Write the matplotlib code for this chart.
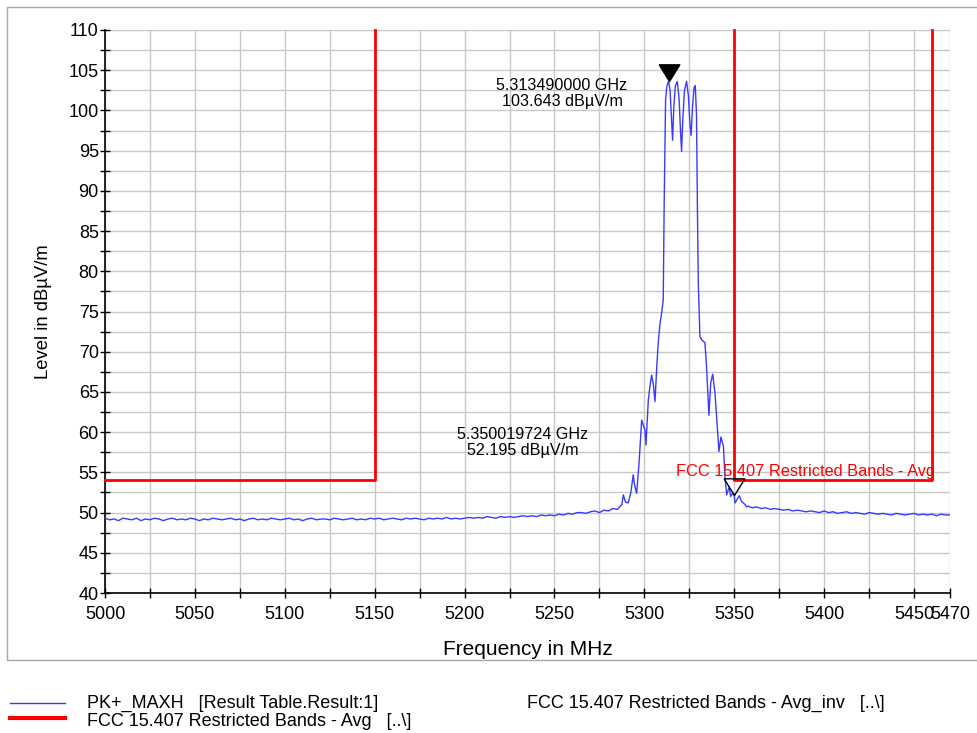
import numpy as np
import matplotlib
matplotlib.use("Agg")
import matplotlib.pyplot as plt
from matplotlib.lines import Line2D
from matplotlib.patches import Rectangle

plt.rcParams['font.family'] = ['Liberation Sans', 'DejaVu Sans']

# ---------------- data ----------------
floor_left_start, floor_left_step = 5000.0, 2.5
floor_left = [
    49.3, 49.1, 49.2, 49.0, 49.3, 49.2, 49.1, 49.3, 49.0, 49.2,
    49.1, 49.3, 49.2, 49.0, 49.2, 49.3, 49.1, 49.2, 49.1, 49.3,
    49.2, 49.0, 49.2, 49.1, 49.3, 49.2, 49.1, 49.2, 49.3, 49.1,
    49.2, 49.0, 49.2, 49.3, 49.1, 49.2, 49.1, 49.3, 49.2, 49.1,
    49.2, 49.3, 49.1, 49.2, 49.0, 49.2, 49.3, 49.1, 49.2, 49.2,
    49.1, 49.3, 49.2, 49.1, 49.2, 49.3, 49.1, 49.2, 49.1, 49.3,
    49.2, 49.3, 49.1, 49.2, 49.3, 49.2, 49.1, 49.3, 49.2, 49.3,
    49.2, 49.1, 49.3, 49.2, 49.3, 49.2, 49.4, 49.2, 49.3, 49.2, 49.3,
    49.4, 49.3, 49.4, 49.3, 49.5, 49.4, 49.3, 49.5, 49.4, 49.5,
    49.4, 49.5, 49.6, 49.5, 49.6, 49.5, 49.7, 49.6, 49.7, 49.6,
    49.8, 49.7, 49.9, 49.8, 50.0, 50.0, 49.9, 50.1, 50.2, 50.0,
    50.3, 50.2, 50.5, 50.4,
]

peak_freq = [
    5287.5, 5288.3, 5289.5, 5291.0, 5292.5, 5293.8, 5294.5, 5295.7, 5297.0, 5297.6,
    5298.5, 5299.5, 5300.3, 5300.9, 5302.2, 5303.0, 5304.0, 5305.0, 5305.9, 5307.0,
    5307.7, 5308.7, 5309.6, 5310.5, 5311.0, 5311.8, 5312.5, 5313.49, 5314.3, 5315.0,
    5315.7, 5316.4, 5317.2, 5318.3, 5319.3, 5320.2, 5320.7, 5321.3, 5322.3, 5323.5,
    5324.5, 5325.3, 5326.0, 5326.8, 5327.6, 5328.3, 5329.0, 5329.5, 5330.0, 5330.9,
    5331.8, 5332.8, 5333.7, 5334.6, 5335.3, 5335.9, 5336.9, 5338.0, 5339.3, 5340.2,
    5341.5, 5342.6, 5344.0, 5344.8, 5345.8, 5347.2, 5348.0, 5349.1, 5350.02, 5350.4,
    5351.5, 5352.8, 5354.0, 5355.0, 5356.0, 5356.9,
]
peak_level = [
    51.0, 52.2, 51.3, 51.2, 52.5, 54.7, 53.5, 52.4, 56.0, 58.2,
    61.5, 60.8, 60.3, 58.4, 64.0, 65.5, 67.1, 66.0, 63.8, 68.5,
    71.1, 73.5, 74.8, 76.4, 88.0, 101.3, 103.0, 103.643, 102.5, 99.5,
    96.3, 100.5, 103.0, 103.6, 101.5, 97.0, 94.9, 98.5, 102.5, 103.6,
    101.8, 98.5, 96.9, 100.5, 102.8, 103.1, 99.5, 88.0, 78.5, 71.9,
    71.5, 71.3, 71.1, 68.1, 65.0, 62.1, 66.1, 67.2, 64.8, 61.9,
    57.6, 59.4, 58.2, 54.5, 52.2, 53.2, 52.0, 52.4, 52.195, 51.2,
    51.6, 52.1, 51.4, 51.2, 51.0, 50.7,
]

floor_right_start, floor_right_step = 5357.5, 2.5
floor_right = [
    50.8, 50.6, 50.7, 50.5, 50.6, 50.4, 50.5, 50.4, 50.3, 50.4,
    50.2, 50.3, 50.2, 50.1, 50.2, 50.1, 50.0, 50.2, 50.0, 50.1,
    49.9, 50.0, 50.1, 49.9, 50.0, 49.9, 49.8, 50.0, 49.9, 49.8,
    49.9, 49.8, 49.7, 49.9, 49.8, 49.7, 49.8, 49.9, 49.7, 49.8,
    49.7, 49.8, 49.6, 49.8, 49.7, 49.7,
]

limit1_freq = [5000, 5150, 5150]
limit1_level = [54, 54, 110]
limit2_freq = [5350, 5350, 5460, 5460]
limit2_level = [110, 54, 54, 110]

marker1 = (5313.49, 103.643)
marker1_text = "5.313490000 GHz\n103.643 dBµV/m"
marker2 = (5350.019724, 52.195)
marker2_text = "5.350019724 GHz\n52.195 dBµV/m"

xticks = [5000, 5050, 5100, 5150, 5200, 5250, 5300, 5350, 5400, 5450, 5470]
yticks = [40, 45, 50, 55, 60, 65, 70, 75, 80, 85, 90, 95, 100, 105, 110]

legend_labels = ["PK+_MAXH   [Result Table.Result:1]",
                 "FCC 15.407 Restricted Bands - Avg   [..\\]",
                 "FCC 15.407 Restricted Bands - Avg_inv   [..\\]"]
limit_label = "FCC 15.407 Restricted Bands - Avg"

# ---------------- build trace ----------------
fl = np.array(floor_left)
fl_x = floor_left_start + floor_left_step * np.arange(len(fl))
fr = np.array(floor_right)
fr_x = floor_right_start + floor_right_step * np.arange(len(fr))
freq = np.concatenate([fl_x, peak_freq, fr_x])
level = np.concatenate([fl, peak_level, fr])

# ---------------- figure ----------------
fig = plt.figure(figsize=(9.77, 7.33), dpi=100)
fig.patches.append(Rectangle((7/977, 1-660/733), 1.0, 653/733, transform=fig.transFigure,
                             fill=False, edgecolor='#a8a8a8', lw=1.0))
ax = fig.add_axes([105/977, 1-593/733, 845/977, 563/733])

ax.set_xlim(5000, 5470)
ax.set_ylim(40, 110)
ax.set_xticks(xticks)
ax.set_xticklabels([str(t) for t in xticks])
ax.set_xticks(np.arange(5025, 5470, 50), minor=True)
ax.set_yticks(yticks)
ax.set_yticks(np.arange(42.5, 110, 5), minor=True)
ax.grid(True, which='both', color='#c8c8c8', lw=1.0, zorder=0)
ax.set_axisbelow(True)
for s in ['top', 'right']:
    ax.spines[s].set_visible(False)
for s in ['left', 'bottom']:
    ax.spines[s].set_color('black')
    ax.spines[s].set_linewidth(1.2)
ax.tick_params(which='both', direction='inout', length=7, width=1, labelsize=13)
ax.tick_params(axis='x', which='both', pad=6)
ax.tick_params(axis='y', which='both', pad=1)

ax.plot(limit1_freq, limit1_level, color='#ff0000', lw=2, clip_on=False, zorder=3)
ax.plot(limit2_freq, limit2_level, color='#ff0000', lw=2, clip_on=False, zorder=3)
ax.plot(freq, level, color='#3a3aff', lw=1.0, zorder=4)

tri = [(-0.62, 1.0), (0.62, 1.0), (0.0, 0.0), (-0.62, 1.0)]
ax.plot([marker1[0]], [marker1[1]], marker=tri, markersize=24, color='black', ls='none', zorder=6)
ax.plot([marker2[0]], [marker2[1]], marker=tri, markersize=24, markerfacecolor='none',
        markeredgecolor='black', markeredgewidth=1.0, ls='none', zorder=6)

ax.text(5254.2, 102.1, marker1_text, ha='center', va='center', fontsize=11.6, linespacing=1.1)
ax.text(5232.5, 58.7, marker2_text, ha='center', va='center', fontsize=11.6, linespacing=1.1)
ax.text(5317.6, 55.05, limit_label, ha='left', va='center', fontsize=11.8, color='#ff0000', zorder=5)

ax.set_xlabel("Frequency in MHz", fontsize=15, labelpad=12)
ax.set_ylabel("Level in dBµV/m", fontsize=13.3, labelpad=12)

# legend (manual)
fig.add_artist(Line2D([10/977, 65/977], [1-703/733, 1-703/733], color='#3a3aff', lw=1.0,
                      transform=fig.transFigure))
fig.add_artist(Line2D([10/977, 65/977], [1-718/733, 1-718/733], color='#ff0000', lw=3.0,
                      transform=fig.transFigure))
fig.text(87/977, 1-703/733, legend_labels[0], ha='left', va='center', fontsize=13)
fig.text(87/977, 1-721/733, legend_labels[1], ha='left', va='center', fontsize=13)
fig.text(527/977, 1-703/733, legend_labels[2], ha='left', va='center', fontsize=13)

fig.savefig("out.png", dpi=100, facecolor='white')
